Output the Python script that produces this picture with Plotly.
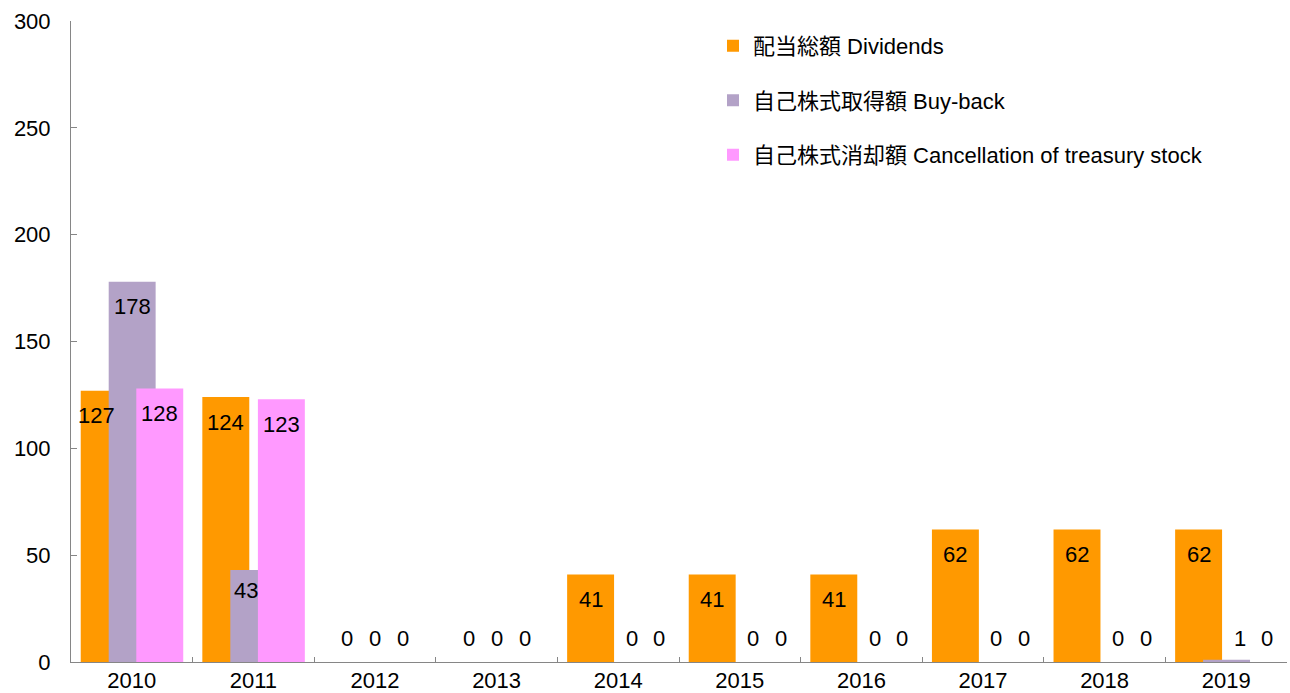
import plotly.graph_objects as go

# ---- data ----
years = ["2010", "2011", "2012", "2013", "2014", "2015", "2016", "2017", "2018", "2019"]
dividends = [127, 124, 0, 0, 41, 41, 41, 62, 62, 62]
buyback = [178, 43, 0, 0, 0, 0, 0, 0, 0, 1]
cancellation = [128, 123, 0, 0, 0, 0, 0, 0, 0, 0]
series_names = [
    "配当総額 Dividends",
    "自己株式取得額 Buy-back",
    "自己株式消却額 Cancellation of treasury stock",
]
y_ticks = [0, 50, 100, 150, 200, 250, 300]

# ---- style ----
colors = ["#FF9900", "#B3A2C7", "#FF99FF"]
FONT = "Liberation Sans, Arial, Noto Sans CJK JP, sans-serif"
FS = 22
BAR_W = 0.386
OFFSETS = [-0.42, -0.19, 0.037]
W, H = 1290, 693
ML, MR, MT, MB = 71, 3, 21, 31
CAT_PX = (W - ML - MR) / len(years)
AXIS_COLOR = "#868686"

series = [dividends, buyback, cancellation]

fig = go.Figure()
for i, (name, vals) in enumerate(zip(series_names, series)):
    fig.add_trace(go.Bar(
        x=years, y=vals, name=name,
        marker=dict(color=colors[i], line=dict(width=0)),
        width=BAR_W, offset=OFFSETS[i],
        legendgroup=f"g{i}",
        hoverinfo="x+y+name",
    ))

annotations = []
for i, vals in enumerate(series):
    base_shift = (OFFSETS[i] + BAR_W / 2) * CAT_PX
    nxt = series[i + 1] if i + 1 < len(series) else None
    for j, v in enumerate(vals):
        xs = base_shift
        if v >= 10:
            y, ys = v, -25
            # label nudged left when the next (overlapping) bar is taller
            if nxt is not None and nxt[j] > v:
                xs -= 8
                if v < 50:
                    ys = -20
        else:
            y, ys = 0, 24
            if i > 0 and dividends[j] > 0:
                xs += 13
        annotations.append(dict(
            x=j, y=y, xref="x", yref="y", text=str(v),
            showarrow=False, xshift=xs, yshift=ys,
            xanchor="center", yanchor="middle",
            font=dict(family=FONT, size=FS, color="#000000"),
        ))

fig.update_layout(
    width=W, height=H, autosize=False,
    margin=dict(l=ML, r=MR, t=MT, b=MB, pad=0),
    paper_bgcolor="white", plot_bgcolor="white",
    barmode="overlay",
    font=dict(family=FONT, size=FS, color="#000000"),
    showlegend=True,
    legend=dict(
        x=(713 - ML) / (W - ML - MR), y=0.994, xanchor="left", yanchor="top",
        font=dict(family=FONT, size=FS, color="#000000"),
        tracegroupgap=23, bgcolor="rgba(0,0,0,0)", traceorder="grouped",
    ),
    annotations=annotations,
    xaxis=dict(
        type="category", range=[-0.5, len(years) - 0.5], automargin=False,
        showline=True, linecolor=AXIS_COLOR, linewidth=1,
        ticks="inside", tickson="boundaries", ticklen=5, tickcolor=AXIS_COLOR,
        showgrid=False, zeroline=False,
        ticklabelstandoff=-1,
        tickfont=dict(family=FONT, size=FS, color="#000000"),
    ),
    yaxis=dict(
        range=[0, 300], tickvals=y_ticks, automargin=False,
        showline=True, linecolor=AXIS_COLOR, linewidth=1,
        ticks="inside", ticklen=6, tickcolor=AXIS_COLOR,
        showgrid=False, zeroline=False,
        ticklabelstandoff=15,
        tickfont=dict(family=FONT, size=FS, color="#000000"),
    ),
)

fig.write_html(
    "out.html",
    config={"displayModeBar": False},
    post_script="document.body.style.margin='0';document.body.style.overflow='hidden';",
)
